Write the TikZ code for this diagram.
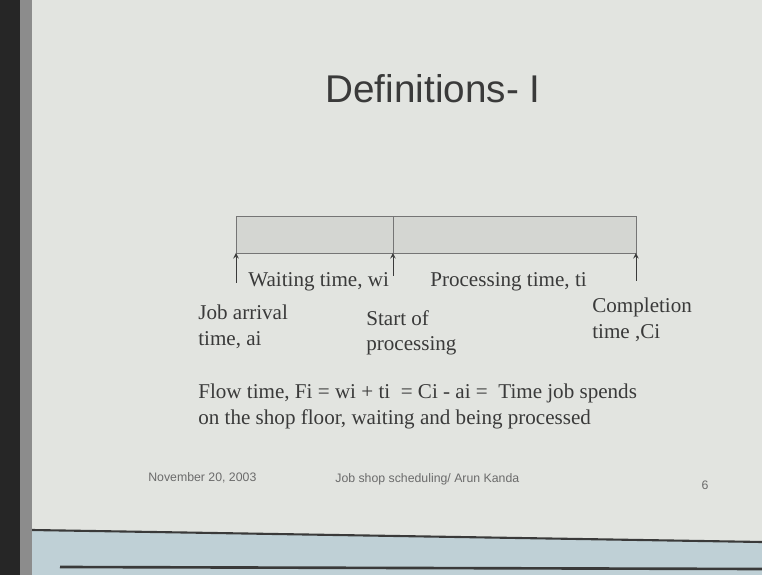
\documentclass[tikz,border=0pt]{standalone}
\usepackage{fontspec}
\setmainfont{Liberation Serif}
\newfontfamily\slidesans{Liberation Sans}
\usetikzlibrary{positioning,calc}

\definecolor{slidebg}{HTML}{E2E4E0}
\definecolor{barfill}{HTML}{D4D6D2}
\definecolor{inkgray}{HTML}{3A3A3A}
\definecolor{deskblue}{HTML}{BFD0D6}

\begin{document}
\begin{tikzpicture}[
    x=0.02cm, y=-0.02cm,
    bar/.style={rectangle, draw=inkgray!70, fill=barfill, minimum height=0.74cm, inner sep=0pt, outer sep=0pt},
    label/.style={text=inkgray, font=\fontsize{12}{14.5}\selectfont, align=left, inner sep=0pt, anchor=north west},
    foot/.style={text=inkgray!75, font=\slidesans\fontsize{7}{8}\selectfont, inner sep=0pt},
    arrow/.style={->, >=stealth, thin, draw=inkgray}
]

% Slide and photo surroundings
\useasboundingbox (0,0) rectangle (762,575);
\fill[slidebg] (0,0) rectangle (762,575);
\fill[deskblue] (32,530) -- (762,542) -- (762,575) -- (32,575) -- cycle;
\draw[inkgray, line width=1.2pt] (32,530) -- (762,542);
\draw[inkgray, line width=1.5pt] (60,567) -- (762,569);
\fill[black!85] (0,0) rectangle (20,575);
\fill[black!45] (20,0) rectangle (32,575);

% Title
\node[text=inkgray, font=\slidesans\fontsize{22}{26}\selectfont, inner sep=0pt] (title) at (433,89) {Definitions- I};

% Time bar
\node[bar, minimum width=3.14cm, anchor=north west] (wait) at (236,216) {};
\node[bar, minimum width=4.86cm, anchor=west] (proc) at (wait.east) {};

% Arrows up to the bar
\coordinate (tailA) at ($(wait.south west)+(0,30)$);
\coordinate (tailB) at ($(wait.south east)+(0,23)$);
\coordinate (tailC) at ($(proc.south east)+(0,28)$);
\draw[arrow] (tailA) -- (wait.south west);
\draw[arrow] (tailB) -- (wait.south east);
\draw[arrow] (tailC) -- (proc.south east);

% Interval labels
\node[label] (waitlbl) at (248,272) {Waiting time, wi};
\node[label] (proclbl) at (430,272) {Processing time, ti};

% Event labels
\node[label] (arrival) at (198,305) {Job arrival\\time, ai};
\node[label] (start) at (366,310) {Start of\\processing};
\node[label] (finish) at (592,298) {Completion\\time ,Ci};

% Flow time definition
\node[label] (flow) at (198,384) {Flow time, Fi = wi + ti \ = Ci - ai = \ Time job spends\\on the shop floor, waiting and being processed};

% Footer
\node[foot, anchor=west] (date) at (148,478) {November 20, 2003};
\node[foot, anchor=west] (course) at (335,479) {Job shop scheduling/ Arun Kanda};
\node[foot] (page) at (705,485) {6};

\end{tikzpicture}
\end{document}
